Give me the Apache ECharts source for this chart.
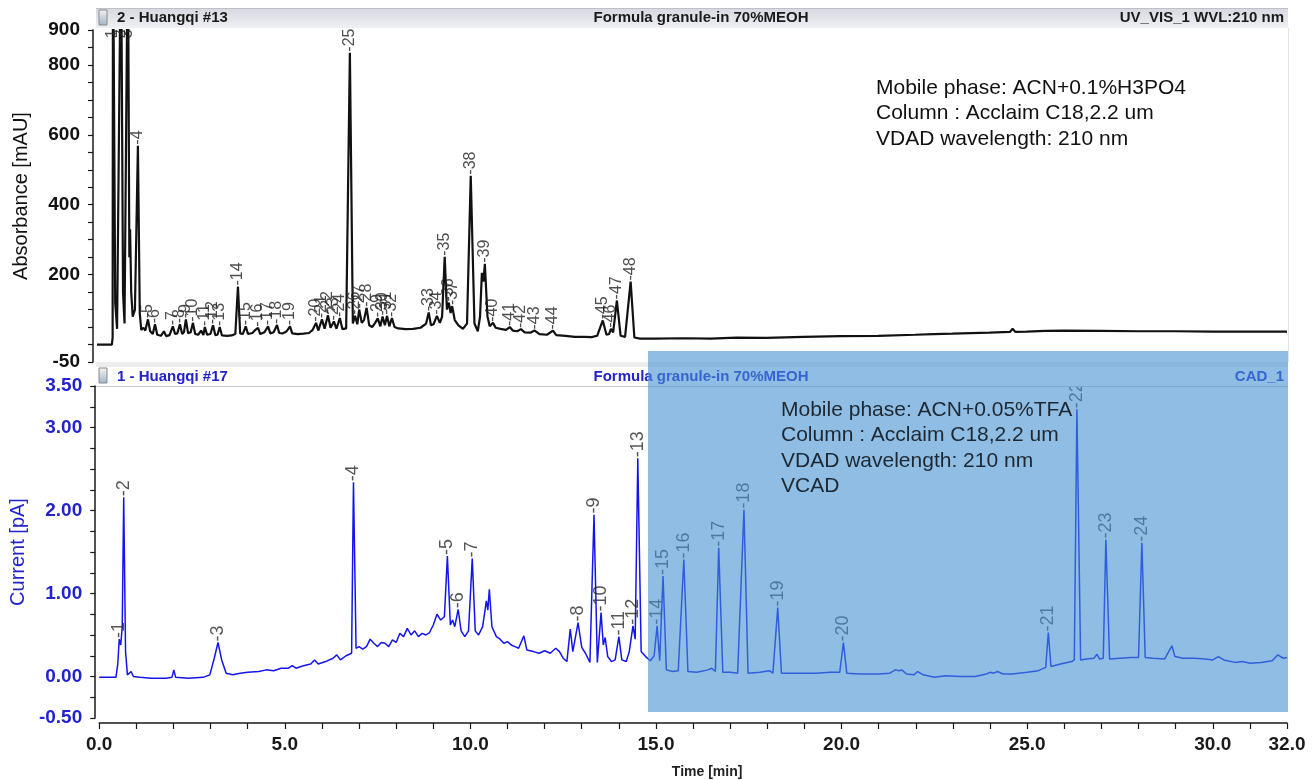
<!DOCTYPE html>
<html>
<head>
<meta charset="utf-8">
<script src="https://cdn.jsdelivr.net/npm/echarts@6/dist/echarts.min.js"></script>
<style>
  html, body { margin: 0; padding: 0; background: #ffffff; }
  #chart { width: 1315px; height: 780px; }
</style>
</head>
<body>
<div id="chart"></div>
<script>
// ---- UV trace (channel UV_VIS_1, 210 nm): [time min, absorbance mAU] ----
const uvTrace = [
  [0.00, 0], [0.40, 0], [0.42, 20], [0.43, 1200], [0.49, 120], [0.54, 45],
  [0.645, 1200], [0.70, 150], [0.74, 60], [0.83, 1200], [0.87, 250], [0.89, 330],
  [0.92, 150], [0.96, 80], [1.02, 100], [1.10, 569], [1.15, 90], [1.19, 42],
  [1.25, 48], [1.30, 40], [1.37, 72], [1.43, 38], [1.50, 30], [1.56, 58],
  [1.62, 28], [1.72, 25], [1.80, 38], [1.86, 24], [1.95, 27], [2.04, 52],
  [2.10, 30], [2.16, 32], [2.23, 58], [2.29, 30], [2.34, 36], [2.39, 72],
  [2.45, 32], [2.52, 35], [2.58, 62], [2.64, 30], [2.72, 28], [2.80, 40],
  [2.86, 27], [2.90, 50], [2.96, 28], [3.05, 30], [3.12, 55], [3.18, 27],
  [3.24, 28], [3.30, 50], [3.36, 26], [3.50, 25], [3.62, 26], [3.72, 30],
  [3.79, 166], [3.85, 32], [3.92, 30], [4.00, 52], [4.06, 30], [4.18, 33],
  [4.26, 42], [4.33, 48], [4.39, 30], [4.50, 35], [4.60, 52], [4.66, 32],
  [4.75, 35], [4.84, 56], [4.90, 33], [5.00, 32], [5.10, 38], [5.19, 52],
  [5.25, 32], [5.40, 30], [5.55, 31], [5.70, 33], [5.80, 42], [5.89, 62],
  [5.95, 40], [6.05, 72], [6.12, 45], [6.21, 84], [6.28, 48], [6.37, 66],
  [6.44, 45], [6.53, 76], [6.60, 44], [6.70, 46], [6.80, 835], [6.88, 60],
  [6.94, 82], [7.00, 58], [7.05, 100], [7.12, 62], [7.18, 70], [7.25, 105],
  [7.32, 55], [7.40, 50], [7.48, 62], [7.55, 75], [7.62, 52], [7.68, 80],
  [7.74, 55], [7.80, 82], [7.86, 52], [7.93, 76], [8.00, 50], [8.10, 46],
  [8.30, 44], [8.50, 45], [8.70, 48], [8.85, 60], [8.92, 92], [8.98, 55],
  [9.05, 58], [9.14, 82], [9.22, 62], [9.28, 80], [9.35, 251], [9.41, 100],
  [9.46, 120], [9.51, 90], [9.55, 110], [9.62, 70], [9.72, 55], [9.84, 45],
  [9.95, 60], [10.05, 483], [10.15, 60], [10.24, 38], [10.30, 80], [10.35, 205],
  [10.39, 180], [10.43, 231], [10.50, 80], [10.56, 52], [10.65, 62], [10.72, 48],
  [10.85, 45], [11.00, 42], [11.10, 50], [11.18, 40], [11.30, 38], [11.40, 44],
  [11.50, 35], [11.65, 34], [11.77, 40], [11.90, 30], [12.10, 28], [12.26, 40],
  [12.35, 27], [12.60, 25], [12.85, 22], [13.10, 22], [13.30, 21], [13.45, 25],
  [13.60, 69], [13.70, 28], [13.77, 30], [13.82, 45], [13.88, 35], [13.98, 126],
  [14.08, 25], [14.20, 22], [14.35, 180], [14.45, 20], [14.60, 17], [15.00, 17],
  [15.80, 18], [16.50, 17], [17.20, 20], [18.00, 19], [19.00, 22], [20.00, 24],
  [21.00, 25], [22.00, 28], [22.50, 30], [23.00, 31], [24.00, 34], [24.55, 36],
  [24.62, 45], [24.70, 36], [25.00, 37], [25.50, 39], [26.00, 40], [27.00, 39],
  [28.00, 38], [29.00, 38], [30.00, 37], [31.00, 37], [32.00, 37]
];

// ---- CAD trace (channel CAD_1): [time min, current pA] ----
const cadTrace = [
  [0.00, -0.01], [0.45, -0.01], [0.50, 0.15], [0.54, 0.45], [0.58, 0.38], [0.62, 0.60],
  [0.66, 2.16], [0.71, 0.30], [0.76, 0.02], [0.81, 0.00], [0.86, 0.06], [0.92, 0.00],
  [1.10, -0.01], [1.40, -0.02], [1.80, -0.02], [1.96, -0.01], [2.01, 0.08], [2.06, -0.01],
  [2.40, -0.02], [2.80, -0.01], [2.98, 0.02], [3.10, 0.22], [3.20, 0.41], [3.30, 0.20],
  [3.42, 0.04], [3.60, 0.02], [3.80, 0.04], [4.00, 0.05], [4.30, 0.06], [4.50, 0.08],
  [4.70, 0.07], [4.90, 0.10], [5.10, 0.10], [5.20, 0.13], [5.30, 0.10], [5.50, 0.13],
  [5.70, 0.15], [5.80, 0.20], [5.90, 0.15], [6.10, 0.18], [6.30, 0.22], [6.40, 0.26],
  [6.50, 0.20], [6.65, 0.25], [6.80, 0.28], [6.85, 2.34], [6.92, 0.34], [7.00, 0.36],
  [7.10, 0.33], [7.20, 0.36], [7.30, 0.45], [7.40, 0.40], [7.50, 0.36], [7.60, 0.41],
  [7.70, 0.40], [7.80, 0.36], [7.90, 0.44], [8.00, 0.41], [8.10, 0.52], [8.20, 0.48],
  [8.30, 0.58], [8.40, 0.50], [8.50, 0.55], [8.60, 0.48], [8.70, 0.52], [8.80, 0.50],
  [8.90, 0.53], [9.00, 0.62], [9.10, 0.75], [9.20, 0.68], [9.30, 0.72], [9.38, 1.45],
  [9.46, 0.62], [9.52, 0.68], [9.58, 0.60], [9.67, 0.81], [9.75, 0.55], [9.85, 0.48],
  [9.95, 0.55], [10.05, 1.42], [10.13, 0.55], [10.22, 0.50], [10.33, 0.60], [10.43, 0.91],
  [10.47, 0.80], [10.51, 1.05], [10.58, 0.60], [10.70, 0.48], [10.80, 0.45], [10.90, 0.40],
  [11.00, 0.42], [11.10, 0.38], [11.20, 0.36], [11.30, 0.34], [11.44, 0.49], [11.52, 0.32],
  [11.70, 0.30], [11.85, 0.28], [12.00, 0.31], [12.15, 0.28], [12.30, 0.34], [12.40, 0.30],
  [12.50, 0.22], [12.60, 0.18], [12.69, 0.57], [12.76, 0.30], [12.90, 0.65], [13.00, 0.35],
  [13.10, 0.28], [13.22, 0.17], [13.33, 1.95], [13.42, 0.17], [13.52, 0.77], [13.58, 0.38],
  [13.63, 0.47], [13.70, 0.24], [13.80, 0.18], [13.90, 0.20], [14.00, 0.48], [14.08, 0.20],
  [14.20, 0.18], [14.28, 0.30], [14.38, 0.61], [14.44, 0.45], [14.51, 2.63], [14.60, 0.30],
  [14.72, 0.24], [14.85, 0.19], [14.95, 0.25], [15.03, 0.61], [15.10, 0.19], [15.19, 1.21],
  [15.28, 0.08], [15.45, 0.06], [15.60, 0.07], [15.75, 1.41], [15.86, 0.06], [16.10, 0.05],
  [16.40, 0.08], [16.50, 0.10], [16.60, 0.06], [16.69, 1.55], [16.80, 0.05], [17.00, 0.05],
  [17.20, 0.04], [17.37, 2.01], [17.48, 0.04], [17.80, 0.05], [18.05, 0.07], [18.15, 0.04],
  [18.28, 0.83], [18.38, 0.04], [18.80, 0.04], [19.30, 0.04], [19.70, 0.05], [19.95, 0.05],
  [20.05, 0.41], [20.14, 0.04], [20.50, 0.03], [21.00, 0.03], [21.30, 0.04], [21.45, 0.08],
  [21.55, 0.07], [21.62, 0.08], [21.75, 0.03], [21.95, 0.02], [22.05, 0.06], [22.20, 0.02],
  [22.50, -0.01], [22.80, 0.01], [23.20, 0.00], [23.60, 0.00], [23.90, 0.03], [24.00, 0.05],
  [24.10, 0.04], [24.20, 0.06], [24.35, 0.03], [24.60, 0.03], [25.00, 0.05], [25.30, 0.07],
  [25.50, 0.11], [25.57, 0.53], [25.64, 0.12], [25.90, 0.15], [26.20, 0.18], [26.27, 0.20],
  [26.34, 3.22], [26.44, 0.20], [26.60, 0.21], [26.80, 0.22], [26.88, 0.27], [26.95, 0.21],
  [27.05, 0.22], [27.12, 1.65], [27.22, 0.21], [27.50, 0.22], [27.80, 0.23], [28.00, 0.23],
  [28.09, 1.61], [28.18, 0.23], [28.40, 0.22], [28.70, 0.21], [28.90, 0.37], [28.98, 0.24],
  [29.20, 0.22], [29.50, 0.22], [29.80, 0.21], [30.00, 0.20], [30.15, 0.24], [30.30, 0.20],
  [30.60, 0.17], [30.80, 0.18], [31.00, 0.16], [31.30, 0.17], [31.60, 0.19], [31.75, 0.26],
  [31.90, 0.22], [32.00, 0.23]
];

// ---- Peak numbering (retention times match apex points of the traces) ----
const uvPeakNames = ['1','2','3','4','5','6','7','8','9','10','11','12','13','14','15','16',
  '17','18','19','20','21','22','23','24','25','26','27','28','29','30','31','32','33','34',
  '35','36','37','38','39','40','41','42','43','44','45','46','47','48'];
const uvPeakTimes = [0.43, 0.645, 0.83, 1.10, 1.37, 1.56, 2.04, 2.23, 2.39, 2.58, 2.90, 3.12,
  3.30, 3.79, 4.00, 4.33, 4.60, 4.84, 5.19, 5.89, 6.05, 6.21, 6.37, 6.53, 6.80, 6.94, 7.05,
  7.25, 7.55, 7.68, 7.80, 7.93, 8.92, 9.14, 9.35, 9.46, 9.55, 10.05, 10.43, 10.65, 11.10,
  11.40, 11.77, 12.26, 13.60, 13.82, 13.98, 14.35];
const cadPeakNames = ['1','2','3','4','5','6','7','8','9','10','11','12','13','14','15','16',
  '17','18','19','20','21','22','23','24'];
const cadPeakTimes = [0.54, 0.66, 3.20, 6.85, 9.38, 9.67, 10.05, 12.90, 13.33, 13.52, 14.00,
  14.38, 14.51, 15.03, 15.19, 15.75, 16.69, 17.37, 18.28, 20.05, 25.57, 26.34, 27.12, 28.09];

// ---- Axis tick labels ----
const uvTickLabels = [900, 800, 600, 400, 200, -50];
const cadTickLabels = [3.5, 3.0, 2.0, 1.0, 0.0, -0.5];
const timeTickLabels = [0, 5, 10, 15, 20, 25, 30, 32];

// ---- Method notes ----
const uvNotes = ['Mobile phase: ACN+0.1%H3PO4', 'Column : Acclaim C18,2.2 um', 'VDAD wavelength: 210 nm'];
const cadNotes = ['Mobile phase: ACN+0.05%TFA', 'Column : Acclaim C18,2.2 um', 'VDAD wavelength: 210 nm', 'VCAD'];

const FONT = '"Liberation Sans", Arial, Helvetica, sans-serif';
const BLUE = '#1414ee';
const BLUE_TEXT = '#2323cc';
const UV_LABEL_CAP = 858;   // labels of off-scale peaks sit just under the top of the axis

function isOneOf(v, list) {
  return list.some(function (x) { return Math.abs(x - v) < 1e-6; });
}
function valueAt(trace, t) {
  for (let i = 0; i < trace.length; i++) {
    if (Math.abs(trace[i][0] - t) < 1e-9) return trace[i][1];
  }
  return null;
}
function labelPoints(trace, names, times, cap) {
  return times.map(function (t, i) {
    let v = valueAt(trace, t);
    if (cap !== undefined) v = Math.min(v, cap);
    return { name: names[i], value: [t, v] };
  });
}

const peakLabel = function (size, color) {
  return {
    show: true,
    position: 'top',
    distance: 1,
    rotate: 90,
    align: 'left',
    verticalAlign: 'middle',
    fontFamily: FONT,
    fontSize: size,
    color: color,
    formatter: function (p) { return '-' + p.name; }
  };
};

const chart = echarts.init(document.getElementById('chart'), null, { renderer: 'canvas' });

const headerGradient = new echarts.graphic.LinearGradient(0, 0, 0, 1, [
  { offset: 0, color: '#d7d8e0' },
  { offset: 1, color: '#eef0f4' }
]);
const iconGradient = new echarts.graphic.LinearGradient(0, 0, 0, 1, [
  { offset: 0, color: '#f4f4f4' },
  { offset: 1, color: '#9fb4c8' }
]);

const graphics = [
  // header bar of the UV panel
  { type: 'rect', z: 10, shape: { x: 96, y: 8, width: 1192, height: 20 },
    style: { fill: headerGradient } },
  { type: 'line', z: 11, shape: { x1: 96, y1: 8.5, x2: 1288, y2: 8.5 },
    style: { stroke: '#bfc0c6', lineWidth: 1 } },
  { type: 'rect', z: 11, shape: { x: 99, y: 10, width: 8, height: 15 },
    style: { fill: iconGradient, stroke: '#8a8a8a', lineWidth: 1 } },
  { type: 'text', z: 11, style: { x: 117, y: 18, text: '2 - Huangqi #13', font: 'bold 15px ' + FONT,
    fill: '#1a1a1a', verticalAlign: 'middle', align: 'left' } },
  { type: 'text', z: 11, style: { x: 701, y: 18, text: 'Formula granule-in 70%MEOH', font: 'bold 15px ' + FONT,
    fill: '#1a1a1a', verticalAlign: 'middle', align: 'center' } },
  { type: 'text', z: 11, style: { x: 1284, y: 18, text: 'UV_VIS_1 WVL:210 nm', font: 'bold 15px ' + FONT,
    fill: '#1a1a1a', verticalAlign: 'middle', align: 'right' } },
  // right frame of the UV panel
  { type: 'line', z: 10, shape: { x1: 1288.5, y1: 28, x2: 1288.5, y2: 362 },
    style: { stroke: '#e2e2e2', lineWidth: 1 } },
  // separator between panels
  { type: 'rect', z: 10, shape: { x: 96, y: 362, width: 1192, height: 5 },
    style: { fill: '#ededed' } },
  // header of the CAD panel
  { type: 'rect', z: 10, shape: { x: 96, y: 367, width: 1192, height: 19 },
    style: { fill: '#ffffff' } },
  { type: 'line', z: 11, shape: { x1: 96, y1: 386.5, x2: 1288, y2: 386.5 },
    style: { stroke: '#c9c9c9', lineWidth: 1 } },
  { type: 'rect', z: 11, shape: { x: 99, y: 368, width: 8, height: 15 },
    style: { fill: iconGradient, stroke: '#8a8a8a', lineWidth: 1 } },
  { type: 'text', z: 11, style: { x: 117, y: 377, text: '1 - Huangqi #17', font: 'bold 15px ' + FONT,
    fill: BLUE_TEXT, verticalAlign: 'middle', align: 'left' } },
  { type: 'text', z: 11, style: { x: 701, y: 377, text: 'Formula granule-in 70%MEOH', font: 'bold 15px ' + FONT,
    fill: BLUE_TEXT, verticalAlign: 'middle', align: 'center' } },
  { type: 'text', z: 11, style: { x: 1284, y: 377, text: 'CAD_1', font: 'bold 15px ' + FONT,
    fill: BLUE_TEXT, verticalAlign: 'middle', align: 'right' } },
  // highlighted later part of the CAD run
  { type: 'rect', z: 50, shape: { x: 648, y: 351, width: 640, height: 361 },
    style: { fill: 'rgba(68,145,208,0.6)' } }
];

uvNotes.forEach(function (txt, i) {
  graphics.push({ type: 'text', z: 60, style: { x: 876, y: 88 + i * 25.5, text: txt,
    font: '21px ' + FONT, fill: '#111111', verticalAlign: 'middle', align: 'left' } });
});
cadNotes.forEach(function (txt, i) {
  graphics.push({ type: 'text', z: 60, style: { x: 781, y: 410 + i * 25.5, text: txt,
    font: '21px ' + FONT, fill: '#1d2833', verticalAlign: 'middle', align: 'left' } });
});

const option = {
  animation: false,
  backgroundColor: '#ffffff',
  grid: [
    { left: 97, width: 1190, top: 30, height: 332, containLabel: false },
    { left: 97, width: 1190, top: 386, height: 332, containLabel: false }
  ],
  xAxis: [
    { type: 'value', gridIndex: 0, min: 0, max: 32, interval: 1, show: false },
    {
      type: 'value', gridIndex: 1, min: 0, max: 32, interval: 1, offset: 5,
      name: 'Time [min]', nameLocation: 'middle', nameGap: 42,
      nameTextStyle: { fontFamily: FONT, fontSize: 14, fontWeight: 'bold', color: '#222', padding: [0, 0, 0, 28] },
      axisLine: { show: true, onZero: false, lineStyle: { color: '#1a1a1a', width: 1.5 } },
      axisTick: { show: true, inside: false, length: 6, lineStyle: { color: '#1a1a1a', width: 1.2 } },
      splitLine: { show: false },
      axisLabel: {
        margin: 12, fontFamily: FONT, fontSize: 19, fontWeight: 'bold', color: '#1a1a1a',
        formatter: function (v) { return isOneOf(v, timeTickLabels) ? v.toFixed(1) : ''; }
      }
    }
  ],
  yAxis: [
    {
      type: 'value', gridIndex: 0, min: -50, max: 900, interval: 50, offset: 4,
      name: 'Absorbance [mAU]', nameLocation: 'middle', nameGap: 62, nameRotate: 90,
      nameTextStyle: { fontFamily: FONT, fontSize: 20, color: '#111' },
      axisLine: { show: true, onZero: false, lineStyle: { color: '#1a1a1a', width: 1.5 } },
      axisTick: { show: true, length: 5, lineStyle: { color: '#1a1a1a', width: 1.2 } },
      splitLine: { show: false },
      axisLabel: {
        margin: 13, fontFamily: FONT, fontSize: 19, fontWeight: 'bold', color: '#111',
        formatter: function (v) { return isOneOf(v, uvTickLabels) ? String(v) : ''; }
      }
    },
    {
      type: 'value', gridIndex: 1, min: -0.5, max: 3.5, interval: 0.25, offset: 4,
      name: 'Current [pA]', nameLocation: 'middle', nameGap: 62, nameRotate: 90,
      nameTextStyle: { fontFamily: FONT, fontSize: 20, color: BLUE_TEXT },
      axisLine: { show: true, onZero: false, lineStyle: { color: '#1a1a1a', width: 1.5 } },
      axisTick: { show: true, length: 5, lineStyle: { color: '#1a1a1a', width: 1.2 } },
      splitLine: { show: false },
      axisLabel: {
        margin: 13, fontFamily: FONT, fontSize: 19, fontWeight: 'bold', color: BLUE_TEXT,
        formatter: function (v) { return isOneOf(v, cadTickLabels) ? v.toFixed(2) : ''; }
      }
    }
  ],
  series: [
    {
      name: 'UV_VIS_1', type: 'line', xAxisIndex: 0, yAxisIndex: 0, data: uvTrace,
      showSymbol: false, symbol: 'none', clip: true, z: 3,
      lineStyle: { color: '#111111', width: 2.2 }
    },
    {
      name: 'UV peaks', type: 'scatter', xAxisIndex: 0, yAxisIndex: 0,
      data: labelPoints(uvTrace, uvPeakNames, uvPeakTimes, UV_LABEL_CAP),
      symbolSize: 0.1, itemStyle: { color: 'rgba(0,0,0,0)' }, z: 4, silent: true,
      label: peakLabel(16, '#222222')
    },
    {
      name: 'CAD_1', type: 'line', xAxisIndex: 1, yAxisIndex: 1, data: cadTrace,
      showSymbol: false, symbol: 'none', clip: true, z: 3,
      lineStyle: { color: BLUE, width: 1.5 }
    },
    {
      name: 'CAD peaks', type: 'scatter', xAxisIndex: 1, yAxisIndex: 1,
      data: labelPoints(cadTrace, cadPeakNames, cadPeakTimes),
      symbolSize: 0.1, itemStyle: { color: 'rgba(0,0,0,0)' }, z: 4, silent: true,
      label: peakLabel(18, '#2a2a2a')
    }
  ],
  graphic: graphics
};

chart.setOption(option);
</script>
</body>
</html>
